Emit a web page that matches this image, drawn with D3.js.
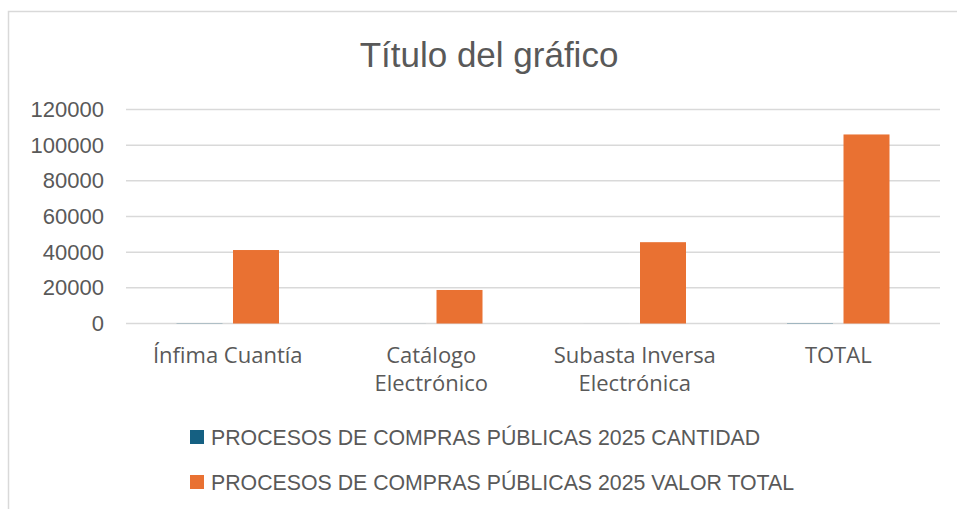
<!DOCTYPE html>
<html>
<head>
<meta charset="utf-8">
<script src="https://cdn.jsdelivr.net/npm/d3@7"></script>
<style>
  body { margin: 0; background: #fff; }
  text { fill: #595959; }
</style>
</head>
<body>
<svg id="chart" width="957" height="509"></svg>
<script>
// Chart data
const categories = ["Ínfima Cuantía", "Catálogo Electrónico", "Subasta Inversa Electrónica", "TOTAL"];
const categoryLines = [["Ínfima Cuantía"], ["Catálogo", "Electrónico"], ["Subasta Inversa", "Electrónica"], ["TOTAL"]];
const seriesNames = ["PROCESOS DE COMPRAS PÚBLICAS 2025 CANTIDAD", "PROCESOS DE COMPRAS PÚBLICAS 2025 VALOR TOTAL"];
const cantidad = [120, 30, 10, 160];
const valorTotal = [41200, 18800, 45600, 106000];
const yTicks = [0, 20000, 40000, 60000, 80000, 100000, 120000];
const colors = ["#156082", "#E97132"];

const svg = d3.select("#chart");

// chart frame
svg.append("rect")
    .attr("x", 8.5).attr("y", 11.5)
    .attr("width", 960).attr("height", 510)
    .attr("fill", "#fff")
    .attr("stroke", "#d9d9d9").attr("stroke-width", 1.5);

// title
svg.append("text")
    .attr("x", 489).attr("y", 67)
    .attr("text-anchor", "middle")
    .style("font-family", "'Liberation Sans', sans-serif")
    .style("font-size", "35px")
    .text("Título del gráfico");

const x = d3.scaleBand().domain(categories).range([126, 940]);
const xInner = d3.scaleBand().domain(seriesNames).range([-51.25, 51.25]).paddingInner(0.186);
const y = d3.scaleLinear().domain([0, 120000]).range([323.5, 109.5]);

// gridlines
svg.append("g")
    .selectAll("line")
    .data(yTicks)
    .enter()
    .append("line")
    .attr("x1", 126).attr("x2", 940)
    .attr("y1", d => y(d)).attr("y2", d => y(d))
    .attr("stroke", "#d9d9d9").attr("stroke-width", 1.5);

// y axis labels
const yAxis = svg.append("g")
    .attr("transform", "translate(104,0)")
    .call(d3.axisLeft(y).tickValues(yTicks).tickSize(0).tickPadding(0).tickFormat(d3.format("d")));
yAxis.select(".domain").remove();
yAxis.selectAll("text")
    .style("font-family", "'Liberation Sans', Arial, sans-serif")
    .style("font-size", "22px")
    .style("fill", "#595959");

// bars
const seriesData = [cantidad, valorTotal];
seriesData.forEach((vals, si) => {
    svg.append("g")
        .selectAll("rect")
        .data(vals)
        .enter()
        .append("rect")
        .attr("x", (d, i) => x(categories[i]) + x.bandwidth() / 2 + xInner(seriesNames[si]))
        .attr("width", xInner.bandwidth())
        .attr("y", d => y(d))
        .attr("height", d => y(0) - y(d))
        .attr("fill", colors[si]);
});

// category labels
const catLabel = svg.append("g")
    .selectAll("text")
    .data(categories)
    .enter()
    .append("text")
    .attr("text-anchor", "middle")
    .style("font-family", "'Open Sans', sans-serif")
    .style("font-size", "22px");
catLabel.selectAll("tspan")
    .data((d, i) => categoryLines[i].map(t => ({ t, cx: x(d) + x.bandwidth() / 2 })))
    .enter()
    .append("tspan")
    .attr("x", d => d.cx)
    .attr("y", (d, j) => 363 + j * 28)
    .text(d => d.t);

// legend
const legend = svg.append("g")
    .selectAll("g")
    .data(seriesNames)
    .enter()
    .append("g")
    .attr("transform", (d, i) => "translate(190," + (437 + i * 45) + ")");
legend.append("rect")
    .attr("x", 0).attr("y", -7)
    .attr("width", 14).attr("height", 14)
    .attr("fill", (d, i) => colors[i]);
legend.append("text")
    .attr("x", 21).attr("y", 8)
    .style("font-family", "'Liberation Sans', sans-serif")
    .style("font-size", "21.3px")
    .text(d => d);
</script>
</body>
</html>
